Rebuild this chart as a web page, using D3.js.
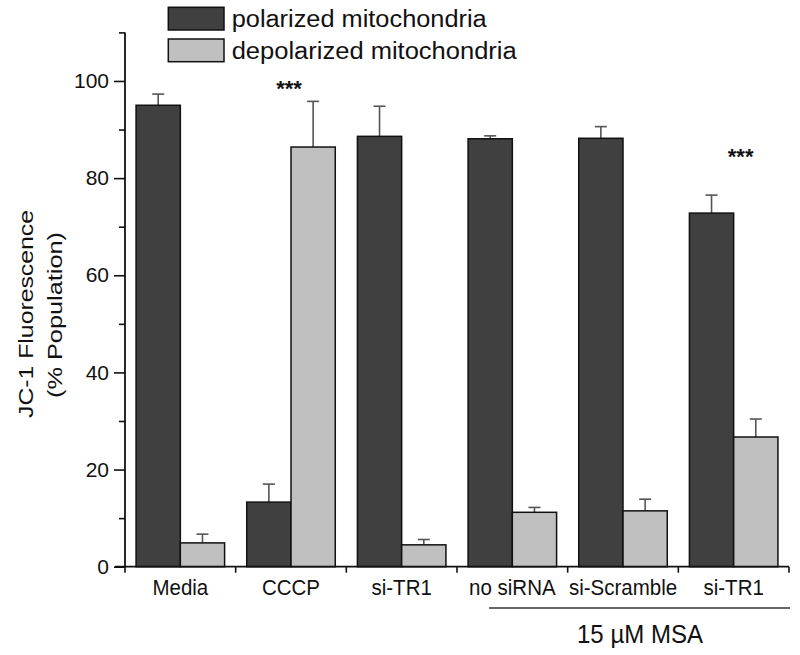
<!DOCTYPE html>
<html><head><meta charset="utf-8">
<script src="https://cdn.jsdelivr.net/npm/d3@7"></script>
<style>
body{margin:0;background:#fff;}
text{font-family:"Liberation Sans",Arial,sans-serif;fill:#111;}
</style></head>
<body><svg id="c" width="800" height="655"></svg>
<script>
const categories = ["Media","CCCP","si-TR1","no siRNA","si-Scramble","si-TR1 "];
const seriesNames = ["polarized mitochondria","depolarized mitochondria"];
const polarized = [95.0, 13.3, 88.6, 88.1, 88.2, 72.8];
const polarizedErr = [2.3, 3.7, 6.2, 0.6, 2.4, 3.7];
const depolarized = [4.9, 86.4, 4.5, 11.2, 11.5, 26.7];
const depolarizedErr = [1.8, 9.4, 1.1, 1.0, 2.4, 3.7];
const significance = [null, {text:"***", value:99}, null, null, null, {text:"***", value:85}];
const yMajorTicks = [0,20,40,60,80,100];
const yMinorTicks = [10,30,50,70,90,110];
const groupLabel = "15 \u00B5M MSA";
const groupStart = 3; // first category under the MSA bar

const svg = d3.select("#c");
const colors = ["#404040","#c0c0c0"];
const x0 = d3.scaleBand().domain(categories).range([125,789]).paddingInner(0.2).paddingOuter(0.1);
const x1 = d3.scaleBand().domain(seriesNames).range([0,x0.bandwidth()]).padding(0);
const y = d3.scaleLinear().domain([0,110]).range([566.7,32.4]);

const rows = categories.map((c,i)=>({c, vals:[
  {s:seriesNames[0], v:polarized[i], e:polarizedErr[i]},
  {s:seriesNames[1], v:depolarized[i], e:depolarizedErr[i]}]}));

// error bars (behind bars)
const g = svg.append("g");
rows.forEach(r=>{
  r.vals.forEach((d,j)=>{
    const cx = x0(r.c)+x1(d.s)+x1.bandwidth()/2;
    g.append("line").attr("x1",cx).attr("x2",cx).attr("y1",y(d.v)).attr("y2",y(d.v+d.e))
      .attr("stroke","#555").attr("stroke-width",1.6);
    g.append("line").attr("x1",cx-6).attr("x2",cx+6).attr("y1",y(d.v+d.e)).attr("y2",y(d.v+d.e))
      .attr("stroke","#555").attr("stroke-width",1.6);
  });
});
// bars
rows.forEach(r=>{
  r.vals.forEach((d,j)=>{
    g.append("rect").attr("x",x0(r.c)+x1(d.s)).attr("width",x1.bandwidth())
      .attr("y",y(d.v)).attr("height",y(0)-y(d.v))
      .attr("fill",colors[j]).attr("stroke","#111").attr("stroke-width",1.5);
  });
});

// significance
categories.forEach((c,i)=>{
  const s = significance[i];
  if(!s) return;
  svg.append("text").attr("x",x0(c)+x0.bandwidth()/2 + (i===5?7:-2)).attr("y",y(s.value)+10)
    .attr("text-anchor","middle").attr("font-size",22).attr("font-weight","bold").text(s.text);
});

// y axis
const ya = svg.append("g").attr("transform","translate(125,0)")
  .call(d3.axisLeft(y).tickValues(yMajorTicks).tickSize(11).tickPadding(5).tickFormat(d3.format("d")));
ya.select(".domain").attr("d",`M0,${y(110)}V${y(0)}`).attr("stroke","#111").attr("stroke-width",1.8);
ya.selectAll(".tick line").attr("stroke","#111").attr("stroke-width",1.6);
ya.selectAll(".tick text").attr("font-size",21).attr("fill","#111");
svg.append("g").attr("transform","translate(125,0)")
  .call(d3.axisLeft(y).tickValues(yMinorTicks).tickSize(6).tickFormat(""))
  .call(a=>{a.select(".domain").remove(); a.selectAll(".tick line").attr("stroke","#111").attr("stroke-width",1.6);});

// x axis
const xa = svg.append("g").attr("transform",`translate(0,${y(0)})`)
  .call(d3.axisBottom(x0).tickSize(0).tickPadding(13));
xa.select(".domain").attr("d",`M115,0H789`).attr("stroke","#111").attr("stroke-width",1.8);
xa.selectAll(".tick text").attr("font-size",20.5).attr("fill","#111")
  .each(function(){
    const w = this.getComputedTextLength();
    d3.select(this).attr("font-size",22).attr("textLength",w).attr("lengthAdjust","spacingAndGlyphs");
  });
const boundaries = categories.map(c=>x0(c)-x0.step()*x0.paddingOuter()).concat([x0.range()[1]]);
xa.selectAll("line.b").data(boundaries).join("line").attr("class","b")
  .attr("x1",d=>d).attr("x2",d=>d).attr("y1",0).attr("y2",6).attr("stroke","#111").attr("stroke-width",1.6);

// group bracket
const gx1 = x0(categories[groupStart]) + 21;
const gx2 = x0.range()[1]+1;
svg.append("line").attr("x1",gx1).attr("x2",gx2).attr("y1",608).attr("y2",608).attr("stroke","#333").attr("stroke-width",1.5);
svg.append("text").attr("x",(577+703)/2).attr("y",643).attr("text-anchor","middle")
  .attr("font-size",25).attr("textLength",126).attr("lengthAdjust","spacingAndGlyphs").text(groupLabel);

// y label
svg.append("text").attr("transform","translate(33,314) rotate(-90)").attr("text-anchor","middle")
  .attr("font-size",21).attr("textLength",208).attr("lengthAdjust","spacingAndGlyphs").text("JC-1 Fluorescence");
svg.append("text").attr("transform","translate(62,315) rotate(-90)").attr("text-anchor","middle")
  .attr("font-size",21).attr("textLength",166).attr("lengthAdjust","spacingAndGlyphs").text("(% Population)");

// legend
const legendW = [255,285];
seriesNames.forEach((s,i)=>{
  const ly = 7.3 + i*31.7;
  svg.append("rect").attr("x",168.3).attr("y",ly).attr("width",55.7).attr("height",22.7)
    .attr("fill",colors[i]).attr("stroke","#111").attr("stroke-width",1.5);
  svg.append("text").attr("x",231.7).attr("y",ly+20).attr("font-size",23)
    .attr("textLength",legendW[i]).attr("lengthAdjust","spacingAndGlyphs").text(s);
});
</script></body></html>
